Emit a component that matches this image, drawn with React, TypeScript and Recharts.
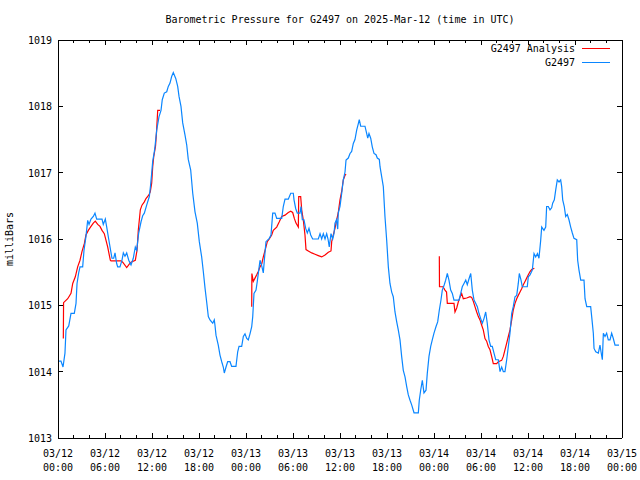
import React from 'react';
import { LineChart, Line, XAxis, YAxis } from 'recharts';

// [hours since 2025-03-12 00:00 UTC, mbar]
const stationDay1: [number, number][] = [
  [0,1014.16],[0.38,1014.16],[0.64,1014.07],[0.89,1014.28],[1.02,1014.63],[1.37,1014.69],[1.66,1014.88],[2.08,1014.88],[2.30,1015.03],[2.43,1015.33],[2.64,1015.49],[2.81,1015.58],[3.15,1015.58],[3.32,1015.83],[3.57,1016.04],[3.79,1016.28],[3.96,1016.22],[4.21,1016.30],[4.51,1016.34],[4.72,1016.39],[4.94,1016.30],[5.62,1016.30],[5.78,1016.22],[6.04,1016.30],[6.22,1016.18],[6.47,1016.00],[6.64,1015.88],[6.89,1015.71],[7.11,1015.71],[7.28,1015.79],[7.49,1015.63],[7.62,1015.58],[7.91,1015.58],[8.17,1015.68],[8.34,1015.79],[8.55,1015.74],[8.77,1015.79],[9.03,1015.68],[9.32,1015.61],[9.61,1015.71],[9.87,1015.88],[10.05,1015.83],[10.30,1016.09],[10.60,1016.26],[10.81,1016.35],[11.02,1016.39],[11.32,1016.51],[11.66,1016.64],[11.81,1016.80],[11.96,1016.99],[12.09,1017.17],[12.29,1017.31],[12.38,1017.39],[12.60,1017.64],[12.89,1017.84],[13.15,1017.94],[13.31,1018.10],[13.57,1018.20],[13.88,1018.22],[14.08,1018.30],[14.30,1018.35],[14.51,1018.45],[14.72,1018.51],[15.03,1018.42],[15.28,1018.30],[15.45,1018.15],[15.70,1018.00],[15.92,1017.75],[16.21,1017.57],[16.43,1017.42],[16.63,1017.20],[16.94,1017.04],[17.20,1016.69],[17.49,1016.41],[17.78,1016.24],[18.04,1015.96],[18.34,1015.73],[18.55,1015.51],[18.77,1015.26],[18.98,1015.05],[19.19,1014.83],[19.40,1014.78],[19.75,1014.73],[19.95,1014.78],[20.04,1014.70],[20.17,1014.55],[20.46,1014.40],[20.68,1014.25],[20.90,1014.15],[21.10,1014.07],[21.23,1013.98],[21.45,1014.07],[21.66,1014.15],[21.96,1014.15],[22.17,1014.08],[22.72,1014.08],[22.94,1014.30],[23.11,1014.38],[23.45,1014.38],[23.66,1014.53],[23.87,1014.57],
];
const stationDay2: [number, number][] = [
  [24.09,1014.50],[24.29,1014.48],[24.51,1014.57],[24.73,1014.68],[24.86,1014.83],[25.02,1015.18],[25.28,1015.23],[25.44,1015.36],[25.66,1015.56],[25.79,1015.68],[26.00,1015.60],[26.21,1015.49],[26.34,1015.68],[26.55,1015.96],[26.72,1015.98],[26.97,1016.01],[27.19,1016.06],[27.41,1016.39],[27.70,1016.39],[27.92,1016.31],[28.56,1016.31],[28.76,1016.49],[28.98,1016.60],[29.40,1016.60],[29.71,1016.69],[30.04,1016.69],[30.13,1016.59],[30.34,1016.46],[30.55,1016.39],[30.89,1016.39],[31.02,1016.49],[31.19,1016.29],[31.40,1016.29],[31.62,1016.16],[31.83,1016.09],[32.04,1016.16],[32.26,1016.06],[32.51,1016.00],[33.23,1016.00],[33.45,1016.08],[33.66,1016.00],[33.87,1016.08],[34.09,1016.00],[34.30,1016.08],[34.47,1016.00],[34.63,1015.88],[34.85,1016.08],[35.07,1016.00],[35.23,1016.08],[35.36,1016.24],[35.55,1016.29],[35.71,1016.15],[35.78,1016.39],[36.00,1016.49],[36.22,1016.69],[36.42,1016.89],[36.64,1017.01],[36.77,1017.19],[37.06,1017.22],[37.28,1017.29],[37.49,1017.32],[37.70,1017.44],[37.91,1017.50],[38.13,1017.64],[38.34,1017.74],[38.46,1017.80],[38.64,1017.70],[39.19,1017.70],[39.41,1017.59],[39.54,1017.52],[39.70,1017.59],[39.92,1017.52],[40.12,1017.39],[40.34,1017.29],[40.60,1017.27],[40.76,1017.22],[41.02,1017.20],[41.11,1017.09],[41.32,1016.94],[41.53,1016.79],[41.74,1016.34],[41.96,1015.98],[42.17,1015.58],[42.38,1015.33],[42.60,1015.20],[42.80,1015.13],[43.02,1014.90],[43.24,1014.75],[43.44,1014.63],[43.66,1014.48],[43.87,1014.23],[44.08,1014.02],[44.30,1013.92],[44.52,1013.77],[44.72,1013.65],[44.94,1013.57],[45.15,1013.50],[45.45,1013.38],[46.00,1013.38],[46.12,1013.57],[46.30,1013.72],[46.51,1013.87],[46.72,1013.68],[46.98,1013.72],[47.14,1013.97],[47.36,1014.23],[47.58,1014.38],[47.78,1014.48],
];
const stationDay3: [number, number][] = [
  [48.00,1014.58],[48.26,1014.68],[48.47,1014.75],[48.68,1014.93],[48.89,1015.08],[49.06,1015.23],[49.31,1015.31],[49.49,1015.38],[49.70,1015.48],[49.91,1015.38],[50.13,1015.23],[50.34,1015.18],[50.55,1015.08],[51.19,1015.08],[51.41,1015.18],[51.61,1015.28],[51.83,1015.33],[52.05,1015.38],[52.25,1015.31],[52.47,1015.40],[52.69,1015.48],[52.89,1015.23],[53.11,1015.08],[53.32,1015.03],[53.53,1014.98],[53.74,1014.88],[53.96,1014.80],[54.17,1014.73],[54.38,1014.80],[54.60,1014.90],[54.80,1014.73],[55.02,1014.48],[55.24,1014.38],[55.44,1014.38],[55.66,1014.28],[55.88,1014.18],[56.21,1014.18],[56.43,1014.00],[56.64,1014.07],[56.85,1014.00],[57.06,1014.00],[57.28,1014.18],[57.49,1014.38],[57.70,1014.58],[57.92,1014.88],[58.12,1014.98],[58.34,1015.13],[58.56,1015.15],[58.76,1015.33],[58.89,1015.48],[59.11,1015.38],[59.27,1015.28],[59.91,1015.28],[60.04,1015.43],[60.26,1015.46],[60.55,1015.53],[60.77,1015.78],[60.98,1015.73],[61.21,1015.78],[61.40,1015.71],[61.62,1015.98],[61.75,1016.18],[62.04,1016.13],[62.26,1016.18],[62.38,1016.49],[62.59,1016.49],[62.81,1016.44],[63.02,1016.47],[63.15,1016.54],[63.36,1016.59],[63.54,1016.74],[63.74,1016.89],[63.96,1016.86],[64.17,1016.89],[64.30,1016.79],[64.43,1016.59],[64.63,1016.49],[64.81,1016.34],[65.02,1016.37],[65.23,1016.29],[65.45,1016.18],[65.66,1016.09],[65.87,1016.01],[66.22,1015.99],[66.34,1015.68],[66.51,1015.53],[66.73,1015.38],[67.15,1015.38],[67.28,1015.10],[67.50,1014.98],[68.00,1014.98],[68.13,1014.83],[68.34,1014.58],[68.43,1014.35],[68.65,1014.30],[68.98,1014.28],[69.19,1014.40],[69.32,1014.30],[69.49,1014.18],[69.62,1014.58],[69.83,1014.53],[70.04,1014.58],[70.25,1014.48],[70.47,1014.48],[70.68,1014.58],[70.89,1014.50],[71.11,1014.40],[71.62,1014.40],
];

const analysisRun1: [number, number][] = [
  [0.68,1014.50],[0.71,1015.04],[1.24,1015.10],[1.66,1015.18],[1.88,1015.33],[2.21,1015.43],[2.51,1015.58],[2.81,1015.68],[3.06,1015.81],[3.36,1015.93],[3.57,1016.06],[3.87,1016.13],[4.21,1016.19],[4.51,1016.24],[4.76,1016.27],[5.07,1016.22],[5.36,1016.19],[5.62,1016.13],[5.91,1016.08],[6.13,1015.98],[6.34,1015.88],[6.68,1015.68],[6.77,1015.67],[8.04,1015.67],[8.26,1015.65],[8.77,1015.57],[9.10,1015.62],[9.32,1015.65],[9.87,1015.68],[10.09,1015.83],[10.25,1016.13],[10.51,1016.44],[10.72,1016.51],[11.02,1016.56],[11.23,1016.61],[11.58,1016.66],[11.78,1016.71],[11.96,1016.84],[12.09,1017.09],[12.22,1017.24],[12.45,1017.40],[12.57,1017.60],[12.73,1017.94],[13.02,1017.94],
];
const analysisRun2: [number, number][] = [
  [24.73,1014.98],[24.75,1015.48],[24.93,1015.36],[25.15,1015.41],[25.37,1015.46],[25.57,1015.51],[25.79,1015.58],[26.00,1015.62],[26.21,1015.73],[26.55,1015.88],[26.72,1015.96],[26.97,1016.00],[27.28,1016.06],[27.48,1016.13],[27.92,1016.18],[28.25,1016.26],[28.56,1016.34],[28.98,1016.36],[29.40,1016.40],[29.71,1016.42],[29.96,1016.40],[30.17,1016.31],[30.38,1016.24],[30.68,1016.18],[30.73,1016.64],[30.98,1016.64],[31.11,1016.44],[31.31,1016.29],[31.53,1016.06],[31.66,1015.84],[31.95,1015.82],[32.39,1015.79],[32.81,1015.77],[33.23,1015.75],[33.66,1015.73],[34.09,1015.76],[34.51,1015.80],[34.85,1015.82],[34.94,1015.96],[35.14,1016.06],[35.36,1016.16],[35.58,1016.29],[35.78,1016.40],[36.00,1016.59],[36.22,1016.72],[36.42,1016.89],[36.64,1016.96],[36.77,1016.98],
];
const analysisRun3: [number, number][] = [
  [48.68,1015.74],[48.70,1015.28],[49.15,1015.28],[49.40,1015.23],[49.60,1015.20],[49.70,1015.03],[50.55,1015.03],[50.68,1014.90],[50.90,1014.96],[51.10,1015.05],[51.32,1015.12],[51.53,1015.18],[51.74,1015.10],[52.17,1015.11],[52.60,1015.13],[52.81,1015.12],[53.02,1015.06],[53.23,1014.98],[53.45,1014.90],[53.66,1014.83],[53.87,1014.78],[54.09,1014.70],[54.29,1014.63],[54.51,1014.50],[54.72,1014.46],[54.93,1014.38],[55.15,1014.33],[55.36,1014.23],[55.57,1014.12],[56.00,1014.12],[56.21,1014.15],[56.64,1014.17],[56.85,1014.23],[57.06,1014.33],[57.28,1014.43],[57.49,1014.53],[57.70,1014.63],[57.92,1014.78],[58.12,1014.93],[58.34,1015.03],[58.56,1015.10],[58.76,1015.15],[58.98,1015.20],[59.19,1015.25],[59.40,1015.31],[59.62,1015.36],[59.83,1015.41],[60.04,1015.46],[60.26,1015.51],[60.47,1015.54],[60.81,1015.56],
];

const tickDates = ['03/12','03/12','03/12','03/12','03/13','03/13','03/13','03/13','03/14','03/14','03/14','03/14','03/15'];
const tickTimes = ['00:00','06:00','12:00','18:00','00:00','06:00','12:00','18:00','00:00','06:00','12:00','18:00','00:00'];
const pressureTicks = [1013, 1014, 1015, 1016, 1017, 1018, 1019];
const hourTicks = Array.from({ length: 37 }, (_, i) => i * 2);

const stationData = [...stationDay1, ...stationDay2, ...stationDay3].map(([t, v]) => ({ t, station: v }));
const analysisData = [
  ...analysisRun1.map(([t, v]) => ({ t, analysis: v as number | null })),
  { t: 18, analysis: null },
  ...analysisRun2.map(([t, v]) => ({ t, analysis: v as number | null })),
  { t: 42, analysis: null },
  ...analysisRun3.map(([t, v]) => ({ t, analysis: v as number | null })),
];

const FONT = '"DejaVu Sans Mono", "Liberation Mono", monospace';
const RED = '#ff0000';
const BLUE = '#0a86ff';

const BottomTick = (props: any) => {
  const { x, y, payload } = props;
  const v = payload.value as number;
  const major = v % 6 === 0;
  const idx = v / 6;
  return (
    <g>
      <line x1={x} x2={x} y1={y} y2={y - (major ? 5 : 3)} stroke="#000" shapeRendering="crispEdges" />
      {major && (
        <text x={x} y={y + 19} textAnchor="middle" fontFamily={FONT} fontSize={10} fill="#000">{tickDates[idx]}</text>
      )}
      {major && (
        <text x={x} y={y + 33} textAnchor="middle" fontFamily={FONT} fontSize={10} fill="#000">{tickTimes[idx]}</text>
      )}
    </g>
  );
};

const TopTick = (props: any) => {
  const { x, y, payload } = props;
  const major = (payload.value as number) % 6 === 0;
  return <line x1={x} x2={x} y1={y} y2={y + (major ? 5 : 3)} stroke="#000" shapeRendering="crispEdges" />;
};

const LeftTick = (props: any) => {
  const { x, y, payload } = props;
  return (
    <g>
      <line x1={x} x2={x + 5} y1={y} y2={y} stroke="#000" shapeRendering="crispEdges" />
      <text x={x - 6} y={y + 4} textAnchor="end" fontFamily={FONT} fontSize={10} fill="#000">{payload.value}</text>
    </g>
  );
};

const RightTick = (props: any) => {
  const { x, y } = props;
  return <line x1={x} x2={x - 5} y1={y} y2={y} stroke="#000" shapeRendering="crispEdges" />;
};

const axisLineStyle = { stroke: '#000', shapeRendering: 'crispEdges' } as any;

export default function App() {
  return (
    <div style={{ position: 'relative', width: 640, height: 480, background: '#fff', fontFamily: FONT }}>
      <style>{'body{margin:0;background:#fff}'}</style>
      <LineChart width={640} height={480} margin={{ top: 0, right: 0, bottom: 0, left: 0 }}>
        <XAxis xAxisId="b" type="number" dataKey="t" domain={[0, 72]} ticks={hourTicks} interval={0}
          allowDataOverflow height={42} tickSize={0} tickMargin={0} tickLine={false}
          axisLine={axisLineStyle} tick={<BottomTick />} />
        <XAxis xAxisId="top" orientation="top" type="number" dataKey="t" domain={[0, 72]} ticks={hourTicks} interval={0}
          allowDataOverflow height={40} tickSize={0} tickMargin={0} tickLine={false}
          axisLine={axisLineStyle} tick={<TopTick />} />
        <YAxis yAxisId="l" type="number" domain={[1013, 1019]} ticks={pressureTicks} interval={0}
          allowDataOverflow width={58} tickSize={0} tickMargin={0} tickLine={false}
          axisLine={axisLineStyle} tick={<LeftTick />} />
        <YAxis yAxisId="r" orientation="right" type="number" domain={[1013, 1019]} ticks={pressureTicks} interval={0}
          allowDataOverflow width={18} tickSize={0} tickMargin={0} tickLine={false}
          axisLine={axisLineStyle} tick={<RightTick />} />
        <Line xAxisId="b" yAxisId="l" data={analysisData} dataKey="analysis" type="linear" stroke={RED}
          strokeWidth={1.2} dot={false} activeDot={false} connectNulls={false} isAnimationActive={false} />
        <Line xAxisId="b" yAxisId="l" data={stationData} dataKey="station" type="linear" stroke={BLUE}
          strokeWidth={1.2} dot={false} activeDot={false} isAnimationActive={false} />
      </LineChart>

      <div style={{ position: 'absolute', left: 340, top: 14, transform: 'translateX(-50%)', fontSize: 10, lineHeight: '12px', whiteSpace: 'nowrap', color: '#000' }}>
        Barometric Pressure for G2497 on 2025-Mar-12 (time in UTC)
      </div>
      <div style={{ position: 'absolute', left: 10, top: 239, transform: 'translate(-50%, -50%) rotate(-90deg)', fontSize: 10, lineHeight: '12px', whiteSpace: 'nowrap', color: '#000' }}>
        milliBars
      </div>
      <div style={{ position: 'absolute', right: 65, top: 42, fontSize: 10, lineHeight: '14px', textAlign: 'right', whiteSpace: 'nowrap', color: '#000' }}>
        <div>G2497 Analysis</div>
        <div>G2497</div>
      </div>
      <div style={{ position: 'absolute', left: 582, top: 48, width: 28, height: 1, background: RED }} />
      <div style={{ position: 'absolute', left: 582, top: 62, width: 28, height: 1, background: BLUE }} />
    </div>
  );
}
